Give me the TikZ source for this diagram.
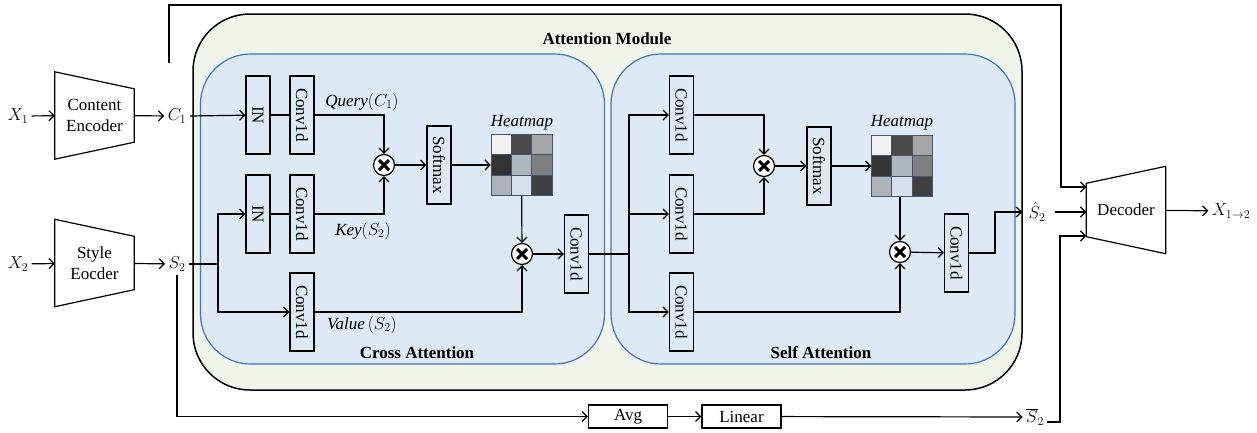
\documentclass[tikz,border=0pt]{standalone}
\usepackage{fontspec}
\setmainfont{Liberation Serif}
\usetikzlibrary{arrows.meta,calc}
\definecolor{outerfill}{RGB}{240,245,236}
\definecolor{bluefill}{RGB}{221,234,246}
\definecolor{blueline}{RGB}{68,114,196}
\definecolor{hmline}{RGB}{68,84,106}
\definecolor{hA}{RGB}{242,242,242}
\definecolor{hB}{RGB}{74,74,74}
\definecolor{hC}{RGB}{165,165,165}
\definecolor{hD}{RGB}{51,51,51}
\definecolor{hE}{RGB}{173,181,189}
\definecolor{hF}{RGB}{127,127,127}
\definecolor{hG}{RGB}{173,178,185}
\definecolor{hH}{RGB}{214,224,236}
\definecolor{hI}{RGB}{64,64,64}
\tikzset{
 lw/.style={line width=1.2pt},
 arr/.style={lw, -{Straight Barb[length=5pt,width=10pt]}},
 vbox/.style={draw, lw, minimum width=24pt, minimum height=78pt, inner sep=0pt},
 hbox/.style={draw, lw, minimum width=79pt, minimum height=23pt, inner sep=0pt},
 mult/.style={draw, lw, circle, fill=white, minimum size=21pt, inner sep=0pt},
 enc/.style={minimum width=79pt, minimum height=87pt, inner sep=0pt, align=center},
 blk/.style={draw=blueline, line width=1.2pt, fill=bluefill, rounded corners=50pt, minimum width=404pt, minimum height=310pt},
 ttl/.style={font=\fontsize{17}{21}\selectfont\bfseries},
 pics/heat/.style={code={
   \foreach \col/\rr/\cc in {hA/0/0,hB/0/1,hC/0/2,hD/1/0,hE/1/1,hF/1/2,hG/2/0,hH/2/1,hI/2/2}
     {\filldraw[fill=\col, draw=hmline, line width=0.9pt] (\cc*20.33-30.5,\rr*20.33-30.5) rectangle ++(20.33,20.33);}
 }},
}
\newcommand\multnode[3]{\node[mult] (#1) at (#2,#3) {};
  \draw[line width=3pt] (#2-5,#3-5) -- (#2+5,#3+5) (#2-5,#3+5) -- (#2+5,#3-5);}
\begin{document}
\begin{tikzpicture}[x=1pt,y=-1pt,font=\fontsize{17}{21}\selectfont]
\useasboundingbox (0,0) rectangle (1257,432);
% containers
\node[draw, line width=1.5pt, fill=outerfill, rounded corners=57pt, minimum width=829pt, minimum height=376pt] (am) at (607.5,202) {};
\node[blk] (cross) at (402.5,209) {};
\node[blk] (self) at (813,209) {};
\node[ttl] (amt) at (607,39) {Attention Module};
\node[ttl] (crt) at (417,353) {Cross Attention};
\node[ttl] (sft) at (821,353) {Self Attention};
% encoders
\node[enc] (ce) at (94.5,115.5) {Content\\Encoder};
\draw[lw] (ce.north west) -- ($(ce.north east)+(0,17)$) -- ($(ce.south east)+(0,-17)$) -- (ce.south west) -- cycle;
\node[enc] (se) at (94.5,263) {Style\\Eocder};
\draw[lw] (se.north west) -- ($(se.north east)+(0,17)$) -- ($(se.south east)+(0,-17)$) -- (se.south west) -- cycle;
\node[enc] (dec) at (1126,210) {Decoder};
\draw[lw] ($(dec.north west)+(0,17)$) -- (dec.north east) -- (dec.south east) -- ($(dec.south west)+(0,-17)$) -- cycle;
% inputs / outputs
\node (X1) at (18,116) {$X_1$};
\node (X2) at (18,264) {$X_2$};
\node (C1) at (177,116) {$C_1$};
\node (S2) at (177,264) {$S_2$};
\node[inner sep=1pt] (S2h) at (1037,212) {$\hat{S}_2$};
\node (S2b) at (1035,417) {$\overline{S}_2$};
\node (X12) at (1231,211) {$X_{1\rightarrow 2}$};
\draw[arr] (X1) -- (ce);
\draw[arr] (X2) -- (se);
\draw[arr] (ce) -- (C1);
\draw[arr] (se) -- (S2);
\draw[arr] (dec) -- (X12);
% cross attention
\node[vbox] (in1) at (258,115) {\rotatebox{-90}{IN}};
\node[vbox] (c1) at (302,115) {\rotatebox{-90}{Conv1d}};
\node[vbox] (in2) at (258,214) {\rotatebox{-90}{IN}};
\node[vbox] (c2) at (302,214) {\rotatebox{-90}{Conv1d}};
\node[vbox] (c3) at (302,312) {\rotatebox{-90}{Conv1d}};
\node[vbox] (sm1) at (439,165) {\rotatebox{-90}{Softmax}};
\node[vbox] (c4) at (576.5,254) {\rotatebox{-90}{Conv1d}};
\multnode{m1}{384}{165}
\multnode{m2}{522}{254}
\node[minimum size=61pt, inner sep=0pt] (hm1) at (521.5,165) {};
\pic at (521.5,165) {heat};
\node[font=\itshape\fontsize{17}{21}\selectfont] (hml1) at (522,123) {Heatmap};
\node (q) at (362,102) {\textit{Query}$(C_1)$};
\node (k) at (363,231) {\textit{Key}$(S_2)$};
\node (v) at (362,325) {\textit{Value}$\,(S_2)$};
\draw[arr] (C1.east) -- (in1);
\draw[lw] (in1) -- (c1);
\draw[lw] (in2) -- (c2);
\draw[lw] (S2.east) -- (218,264) coordinate (sp1);
\draw[arr] (sp1) |- (in2);
\draw[arr] (sp1) |- (c3);
\draw[arr] (c1.east) -| (m1);
\draw[arr] (c2.east) -| (m1);
\draw[arr] (m1) -- (sm1);
\draw[arr] (sm1) -- (hm1);
\draw[arr] (hm1) -- (m2);
\draw[arr] (c3.east) -| (m2);
\draw[arr] (m2) -- (c4);
% self attention
\node[vbox] (s1) at (681.5,115) {\rotatebox{-90}{Conv1d}};
\node[vbox] (s2) at (681.5,214) {\rotatebox{-90}{Conv1d}};
\node[vbox] (s3) at (681.5,312) {\rotatebox{-90}{Conv1d}};
\node[vbox] (sm2) at (819,166) {\rotatebox{-90}{Softmax}};
\node[vbox] (s4) at (956.5,253) {\rotatebox{-90}{Conv1d}};
\multnode{m3}{764}{166}
\multnode{m4}{900}{252}
\node[minimum size=61pt, inner sep=0pt] (hm2) at (902,166) {};
\pic at (902,166) {heat};
\node[font=\itshape\fontsize{17}{21}\selectfont] (hml2) at (902,123) {Heatmap};
\draw[lw] (c4.east) -- (629,254) coordinate (sp2);
\draw[arr] (sp2) |- (s1);
\draw[arr] (sp2) |- (s2);
\draw[arr] (sp2) |- (s3);
\draw[arr] (s1.east) -| (m3);
\draw[arr] (s2.east) -| (m3);
\draw[arr] (m3) -- (sm2);
\draw[arr] (sm2) -- (hm2);
\draw[arr] ([xshift=-2pt]hm2.south) -- (m4);
\draw[arr] (s3.east) -| (m4);
\draw[arr] (m4) -- (s4);
\coordinate (outS) at (1022,212);
\draw[arr] (s4.east) -- (995,253) |- (outS);
\draw[arr] ([xshift=8pt]S2h.east) -- (dec.west |- S2h);
% top skip line
\coordinate (topst) at (169,63);
\draw[arr] (topst) |- (1061,5) |- ($(dec.west)+(0,-23)$);
% bottom path
\node[hbox] (avg) at (628,416.5) {Avg};
\node[hbox] (lin) at (741.5,416.5) {Linear};
\draw[arr] (S2.south) |- (avg);
\draw[arr] (avg) -- (lin);
\draw[arr] (lin) -- (S2b);
\draw[arr] ([yshift=-5pt]S2b.east) -- (1060,422) |- ($(dec.west)+(0,26)$);
\end{tikzpicture}
\end{document}
